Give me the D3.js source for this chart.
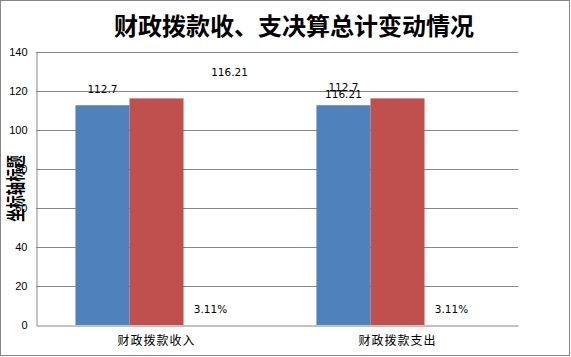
<!DOCTYPE html>
<html><head><meta charset="utf-8">
<script src="https://cdn.jsdelivr.net/npm/d3@7"></script>
<style>body{margin:0;background:#fff}</style>
</head><body>
<svg id="c" width="571" height="357"></svg>
<script>
const title = "财政拨款收、支决算总计变动情况";
const yTitle = "坐标轴标题";
const categories = ["财政拨款收入", "财政拨款支出"];
const seriesNames = ["上年决算", "本年决算", "增减变化率"];
const series1 = [112.7, 112.7];
const series2 = [116.21, 116.21];
const series3 = [0.0311, 0.0311];
const series3Labels = ["3.11%", "3.11%"];
const yTicks = [0, 20, 40, 60, 80, 100, 120, 140];
const colors = ["#4F81BD", "#C0504D", "#9BBB59"];

const svg = d3.select("#c");
svg.append("rect").attr("x", 0.5).attr("y", 0.5).attr("width", 569).attr("height", 355)
  .attr("fill", "#fff").attr("stroke", "#868686");

const m = {l: 36, r: 518, t: 52, b: 325};
const x0 = d3.scaleBand().domain(categories).range([m.l, m.r]).paddingInner(0).paddingOuter(0);
const y = d3.scaleLinear().domain([0, 140]).range([m.b, m.t]);
const x1 = d3.scaleBand().domain(seriesNames).range([0, x0.bandwidth()]).paddingInner(0).paddingOuter(0.73);

// gridlines
svg.append("g").selectAll("line").data(yTicks.filter(d => d > 0)).join("line")
  .attr("x1", m.l).attr("x2", m.r).attr("y1", d => Math.round(y(d)) + 0.5).attr("y2", d => Math.round(y(d)) + 0.5)
  .attr("stroke", "#868686").attr("stroke-width", 1);

// y axis
const yAxis = d3.axisLeft(y).tickValues(yTicks).tickSize(0).tickPadding(9);
const ga = svg.append("g").attr("transform", `translate(${m.l + 0.5},0)`).call(yAxis);
ga.select(".domain").attr("stroke", "#868686");
ga.selectAll("text").attr("font-family", "Liberation Sans, Arial, sans-serif").attr("font-size", 11).attr("fill", "#000");

// bars
const data = categories.map((c, i) => ({c, vals: [series1[i], series2[i], series3[i]]}));
const groups = svg.append("g").selectAll("g").data(data).join("g")
  .attr("transform", d => `translate(${x0(d.c)},0)`);
groups.selectAll("rect").data(d => d.vals.map((v, j) => ({k: seriesNames[j], v, j}))).join("rect")
  .attr("x", d => x1(d.k)).attr("width", x1.bandwidth())
  .attr("y", d => y(d.v)).attr("height", d => y(0) - y(d.v))
  .attr("fill", d => colors[d.j]);

// x axis
const xAxis = d3.axisBottom(x0).tickSize(0).tickPadding(11);
const gx = svg.append("g").attr("transform", `translate(0,${m.b + 0.5})`).call(xAxis);
gx.select(".domain").attr("stroke", "#868686");
gx.selectAll("text").attr("font-family", "Noto Sans CJK SC, sans-serif").attr("font-size", 12).attr("letter-spacing", 1).attr("fill", "#000");

// data labels
const lf = "DejaVu Sans, Verdana, sans-serif";
function lbl(xp, yp, t) {
  svg.append("text").attr("x", xp).attr("y", yp).attr("text-anchor", "middle")
    .attr("font-family", lf).attr("font-size", 10.5).attr("fill", "#000").text(t);
}
const bw = x1.bandwidth();
// group 1
lbl(x0(categories[0]) + x1(seriesNames[0]) + bw / 2, y(series1[0]) - 12, series1[0]);
lbl(x0(categories[0]) + x1(seriesNames[2]) + bw / 2 + 19, y(series2[0]) - 22, series2[0]);
lbl(x0(categories[0]) + x1(seriesNames[2]) + bw / 2, y(0) - 12, series3Labels[0]);
// group 2
lbl(x0(categories[1]) + x1(seriesNames[0]) + bw / 2, y(series1[1]) - 14, series1[1]);
lbl(x0(categories[1]) + x1(seriesNames[0]) + bw / 2, y(series2[1]) - 0, series2[1]);
lbl(x0(categories[1]) + x1(seriesNames[2]) + bw / 2, y(0) - 12, series3Labels[1]);

// y title
svg.append("text").attr("transform", `translate(23,${(m.t + m.b) / 2}) rotate(-90) scale(0.7,1)`)
  .attr("text-anchor", "middle").attr("font-family", "Noto Sans CJK SC, sans-serif")
  .attr("font-weight", "bold").attr("font-size", 19).attr("fill", "#000").text(yTitle);

// title
svg.append("text").attr("x", 294).attr("y", 35).attr("text-anchor", "middle")
  .attr("font-family", "Noto Sans CJK SC, sans-serif").attr("font-weight", "bold")
  .attr("font-size", 24).attr("fill", "#000").text(title);
</script>
</body></html>
